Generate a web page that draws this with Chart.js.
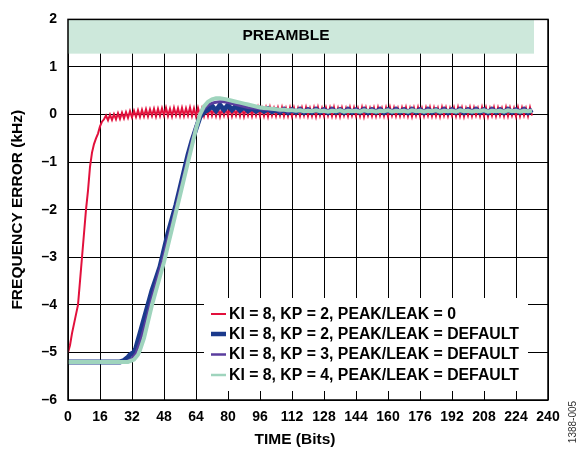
<!DOCTYPE html>
<html>
<head>
<meta charset="utf-8">
<script src="https://cdn.jsdelivr.net/npm/chart.js@4/dist/chart.umd.min.js"></script>
<style>
  html, body { margin: 0; padding: 0; background: #fff; }
  #wrap { width: 581px; height: 449px; }
</style>
</head>
<body>
<div id="wrap"><canvas id="chart" width="581" height="449"></canvas></div>
<script>
// Frequency error vs time (bits) for four loop settings

const seriesLabels = [
  'KI = 8, KP = 2, PEAK/LEAK = 0',
  'KI = 8, KP = 2, PEAK/LEAK = DEFAULT',
  'KI = 8, KP = 3, PEAK/LEAK = DEFAULT',
  'KI = 8, KP = 4, PEAK/LEAK = DEFAULT'
];
const seriesColors = ['#e2103c', '#1b3a8c', '#5a3d9e', '#9fd4bd'];
const xTicks = [0, 16, 32, 48, 64, 80, 96, 112, 128, 144, 160, 176, 192, 208, 224, 240];
const yTicks = [-6, -5, -4, -3, -2, -1, 0, 1, 2];

// red: fast pull-in, then ripple (one value per bit from bit 18)
const redRiseBits = [0, 1, 2, 3, 4, 5, 6, 7, 8, 9, 10, 11, 12, 13, 14, 15, 16, 17];
const redRiseErr = [-5.0, -4.85, -4.6, -4.4, -4.2, -4.0, -3.5, -3.0, -2.5, -2.0, -1.6, -1.1, -0.8, -0.62, -0.5, -0.4, -0.25, -0.15];
const redRippleStart = 18;
const redRipple = [
  -0.10, -0.02, -0.12, 0.00, -0.11, 0.01, -0.10, 0.03, -0.09, 0.04, -0.08, 0.05,
  -0.07, 0.07, -0.06, 0.08, -0.05, 0.09, -0.05, 0.10, -0.04, 0.11, -0.04, 0.11, -0.03, 0.12, -0.04, 0.12,
  -0.03, 0.13, -0.02, 0.14, -0.03, 0.12, -0.04, 0.14, -0.02, 0.13,
  -0.03, 0.14, -0.03, 0.13, -0.02, 0.15, -0.03, 0.13, -0.04, 0.14,
  -0.02, 0.13, -0.03, 0.14, -0.03, 0.15, -0.02, 0.13, -0.03, 0.14,
  -0.04, 0.13, -0.02, 0.14, -0.03, 0.15, -0.03, 0.13, -0.02, 0.14,
  -0.03, 0.15, -0.04, 0.13, -0.02, 0.14, -0.03, 0.14, -0.02, 0.15,
  -0.03, 0.13, -0.03, 0.14, -0.04, 0.15, -0.02, 0.13, -0.03, 0.14,
  -0.02, 0.15, -0.03, 0.13, -0.03, 0.14, -0.04, 0.14, -0.02, 0.13,
  -0.03, 0.14, -0.02, 0.15, -0.03, 0.13, -0.03, 0.14, -0.04, 0.15,
  -0.02, 0.13, -0.03, 0.14, -0.02, 0.14, -0.03, 0.15, -0.03, 0.13,
  -0.04, 0.14, -0.02, 0.13, -0.03, 0.15, -0.02, 0.14, -0.03, 0.13,
  -0.03, 0.15, -0.04, 0.14, -0.02, 0.13, -0.03, 0.14, -0.03, 0.15,
  -0.02, 0.13, -0.03, 0.14, -0.04, 0.15, -0.02, 0.14, -0.03, 0.13,
  -0.03, 0.14, -0.02, 0.15, -0.03, 0.13, -0.04, 0.14, -0.02, 0.15,
  -0.03, 0.13, -0.03, 0.14, -0.02, 0.15, -0.03, 0.14, -0.03, 0.13,
  -0.04, 0.15, -0.02, 0.14, -0.03, 0.13, -0.02, 0.14, -0.03, 0.15,
  -0.03, 0.14, -0.04, 0.13, -0.02, 0.15, -0.03, 0.14, -0.02, 0.13,
  -0.03, 0.15, -0.03, 0.14, -0.04, 0.13, -0.02, 0.15, -0.03, 0.14,
  -0.02, 0.13, -0.03, 0.15, -0.03, 0.14, -0.02, 0.13, -0.04, 0.15,
  -0.03, 0.14, -0.02, 0.13, -0.03, 0.15, -0.02
];

// the three default-peak/leak curves: pull-in, then a settled tail every 2 bits from bit 104
const blueBits = [0, 26, 28, 30, 31, 32, 33, 34, 35, 36, 38, 40, 42, 44, 46, 48, 50, 52, 54, 56, 58, 60, 62, 64, 66, 68,
  70, 72, 74, 76, 78, 80, 82, 84, 86, 88, 90, 92, 94, 96, 98, 100, 102];
const blueErr = [-5.2, -5.2, -5.17, -5.1, -5.05, -5.02, -5.0, -4.9, -4.75, -4.6, -4.3, -4.0, -3.7, -3.45, -3.2, -2.85,
  -2.5, -2.2, -1.9, -1.55, -1.2, -0.85, -0.55, -0.3, -0.05, 0.05,
  0.10, 0.18, 0.08, 0.20, 0.10, 0.20, 0.10, 0.18, 0.09, 0.16, 0.08, 0.14, 0.07, 0.13, 0.07, 0.12, 0.06];

const purpleBits = [0, 29, 32, 34, 36, 38, 40, 42, 44, 46, 48, 50, 52, 54, 56, 58, 60, 62, 64, 66, 68, 70, 72, 74, 76, 78,
  80, 82, 84, 86, 88, 90, 92, 94, 96, 98, 100, 102];
const purpleErr = [-5.2, -5.2, -5.13, -5.02, -4.8, -4.5, -4.18, -3.85, -3.55, -3.25, -2.95, -2.6, -2.28, -1.95, -1.6,
  -1.25, -0.9, -0.56, -0.25, 0.0, 0.12, 0.2, 0.24, 0.26, 0.27, 0.27, 0.25, 0.23, 0.21, 0.19, 0.17, 0.15, 0.14, 0.13,
  0.12, 0.11, 0.10, 0.10];

const greenBits = [0, 30, 33, 35, 36, 38, 40, 42, 44, 46, 48, 50, 52, 54, 56, 58, 60, 62, 64, 66, 68, 70, 72, 74, 76, 78,
  80, 82, 84, 86, 88, 90, 92, 94, 96, 98, 100, 102];
const greenErr = [-5.2, -5.2, -5.15, -5.05, -4.95, -4.7, -4.35, -4.0, -3.7, -3.4, -3.1, -2.75, -2.4, -2.05, -1.7, -1.35,
  -1.0, -0.65, -0.3, 0.0, 0.17, 0.27, 0.32, 0.34, 0.34, 0.33, 0.31, 0.29, 0.27, 0.25, 0.23, 0.21, 0.19, 0.17, 0.15,
  0.14, 0.13, 0.12];

const tailStart = 104;
const tailStep = 2;
const blueTail = [
  0.10, 0.05, 0.11, 0.04, 0.10, 0.05, 0.11, 0.04, 0.10, 0.05, 0.11, 0.05, 0.10, 0.04, 0.11, 0.05,
  0.10, 0.04, 0.11, 0.05, 0.10, 0.05, 0.11, 0.04, 0.10, 0.05, 0.11, 0.04, 0.10, 0.05, 0.11, 0.05,
  0.10, 0.04, 0.11, 0.05, 0.10, 0.04, 0.11, 0.05, 0.10, 0.05, 0.11, 0.04, 0.10, 0.05, 0.11, 0.04,
  0.10, 0.05, 0.11, 0.05, 0.10, 0.04, 0.11, 0.05, 0.10, 0.04, 0.11, 0.05, 0.10, 0.05, 0.11, 0.04, 0.10
];
const purpleTail = [
  0.11, 0.06, 0.12, 0.05, 0.11, 0.06, 0.12, 0.05, 0.11, 0.06, 0.12, 0.06, 0.11, 0.05, 0.12, 0.06,
  0.11, 0.05, 0.12, 0.06, 0.11, 0.06, 0.12, 0.05, 0.11, 0.06, 0.12, 0.05, 0.11, 0.06, 0.12, 0.06,
  0.11, 0.05, 0.12, 0.06, 0.11, 0.05, 0.12, 0.06, 0.11, 0.06, 0.12, 0.05, 0.11, 0.06, 0.12, 0.05,
  0.11, 0.06, 0.12, 0.06, 0.11, 0.05, 0.12, 0.06, 0.11, 0.05, 0.12, 0.06, 0.11, 0.06, 0.12, 0.05, 0.11
];
const greenTail = [
  0.11, 0.10, 0.10, 0.09, 0.09, 0.08, 0.09, 0.07, 0.08, 0.07, 0.09, 0.07, 0.08, 0.06, 0.08, 0.07,
  0.09, 0.06, 0.08, 0.07, 0.08, 0.06, 0.09, 0.07, 0.08, 0.06, 0.08, 0.07, 0.09, 0.06, 0.08, 0.07,
  0.08, 0.06, 0.09, 0.07, 0.08, 0.06, 0.08, 0.07, 0.09, 0.06, 0.08, 0.07, 0.08, 0.06, 0.09, 0.07,
  0.08, 0.06, 0.08, 0.07, 0.09, 0.06, 0.08, 0.07, 0.08, 0.06, 0.09, 0.07, 0.08, 0.06, 0.08, 0.07, 0.08
];

const FONT = '"Liberation Sans", Arial, sans-serif';

function toPoints(bits, errs) {
  return bits.map((b, i) => ({ x: b, y: errs[i] }));
}
function withTail(bits, errs, tail) {
  return toPoints(bits, errs).concat(tail.map((v, i) => ({ x: tailStart + i * tailStep, y: v })));
}

const redData = toPoints(redRiseBits, redRiseErr)
  .concat(redRipple.map((v, i) => ({ x: redRippleStart + i, y: v })));

const datasets = [
  { label: seriesLabels[0], data: redData, borderColor: seriesColors[0], borderWidth: 2, order: 3 },
  { label: seriesLabels[1], data: withTail(blueBits, blueErr, blueTail), borderColor: seriesColors[1], borderWidth: 5, order: 2 },
  { label: seriesLabels[2], data: withTail(purpleBits, purpleErr, purpleTail), borderColor: seriesColors[2], borderWidth: 3, order: 1 },
  { label: seriesLabels[3], data: withTail(greenBits, greenErr, greenTail), borderColor: seriesColors[3], borderWidth: 4, order: 0 }
];
datasets.forEach(d => { d.pointRadius = 0; d.fill = false; d.tension = 0; });

const legendWidths = [2, 4.5, 2.5, 2.5];

const decor = {
  id: 'decor',
  beforeDatasetsDraw(chart) {
    const { ctx, scales: { x, y } } = chart;
    ctx.save();
    // preamble band
    const x0 = x.getPixelForValue(0), x1 = x.getPixelForValue(233);
    const y0 = y.getPixelForValue(2), y1 = y.getPixelForValue(1.28);
    ctx.fillStyle = '#cde8db';
    ctx.fillRect(x0, y0, x1 - x0, y1 - y0);
    ctx.fillStyle = '#000';
    ctx.font = 'bold 15.5px ' + FONT;
    ctx.textAlign = 'center';
    ctx.textBaseline = 'middle';
    ctx.fillText('PREAMBLE', 286, 36);
    ctx.restore();
  },
  afterDatasetsDraw(chart) {
    const { ctx, chartArea } = chart;
    ctx.save();
    // legend box
    ctx.fillStyle = '#fff';
    ctx.fillRect(204, 298, 324, 93);
    ctx.font = 'bold 15.8px ' + FONT;
    ctx.textAlign = 'left';
    ctx.textBaseline = 'middle';
    const rows = [314, 334, 354.5, 375];
    seriesLabels.forEach((lab, i) => {
      ctx.strokeStyle = seriesColors[i];
      ctx.lineWidth = legendWidths[i];
      ctx.beginPath();
      ctx.moveTo(211, rows[i]);
      ctx.lineTo(226, rows[i]);
      ctx.stroke();
      ctx.fillStyle = '#000';
      ctx.fillText(lab, 229, rows[i] + 0.5);
    });
    // frame
    ctx.strokeStyle = '#000';
    ctx.lineWidth = 1.5;
    ctx.strokeRect(chartArea.left, chartArea.top, chartArea.right - chartArea.left, chartArea.bottom - chartArea.top);
    ctx.restore();
  },
  afterDraw(chart) {
    const ctx = chart.ctx;
    ctx.save();
    // x-axis title sits a little left of the plot centre
    ctx.fillStyle = '#000';
    ctx.font = 'bold 15.5px ' + FONT;
    ctx.textAlign = 'center';
    ctx.textBaseline = 'middle';
    ctx.fillText('TIME (Bits)', 295, 440);
    ctx.translate(573, 422);
    ctx.rotate(-Math.PI / 2);
    ctx.fillStyle = '#333';
    ctx.font = '10px ' + FONT;
    ctx.fillText('1388-005', 0, 0);
    ctx.restore();
  }
};

new Chart(document.getElementById('chart'), {
  type: 'line',
  data: { datasets },
  options: {
    responsive: false,
    animation: false,
    layout: { padding: { left: 0, top: 16, right: 33, bottom: 0 } },
    plugins: { legend: { display: false }, tooltip: { enabled: false } },
    scales: {
      x: {
        type: 'linear',
        min: 0, max: 240,
        afterBuildTicks: s => { s.ticks = xTicks.map(v => ({ value: v })); },
        afterFit: s => { s.height = 49; },
        grid: { color: '#000', lineWidth: 1, drawTicks: false },
        border: { display: false },
        ticks: { color: '#000', padding: 9, font: { family: FONT, size: 14, weight: 'bold' } },
        title: { display: false }
      },
      y: {
        type: 'linear',
        min: -6, max: 2,
        afterBuildTicks: s => { s.ticks = yTicks.map(v => ({ value: v })); },
        afterFit: s => { s.width = 68; },
        grid: { color: '#000', lineWidth: 1, drawTicks: false },
        border: { display: false },
        ticks: {
          color: '#000', padding: 11, font: { family: FONT, size: 14, weight: 'bold' },
          callback: v => v < 0 ? '\u2013' + Math.abs(v) : String(v)
        },
        title: { display: true, text: 'FREQUENCY ERROR (kHz)', color: '#000', padding: { top: 8, bottom: 0 },
          font: { family: FONT, size: 15.5, weight: 'bold' } }
      }
    }
  },
  plugins: [decor]
});
</script>
</body>
</html>
